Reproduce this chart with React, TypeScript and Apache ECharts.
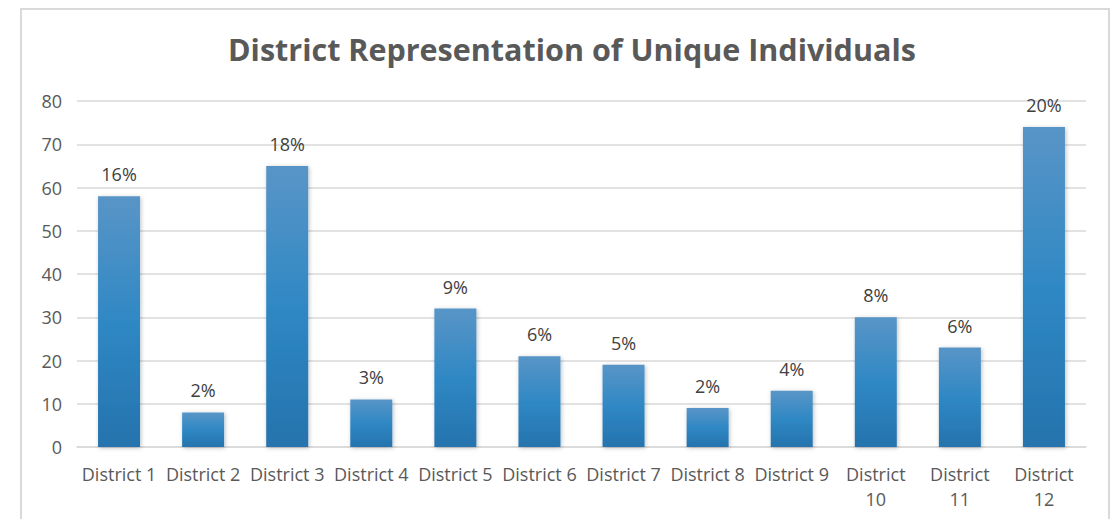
import React, { useEffect, useRef } from "react";
import * as echarts from "echarts";

const categories = [
  "District 1", "District 2", "District 3", "District 4", "District 5", "District 6",
  "District 7", "District 8", "District 9", "District 10", "District 11", "District 12",
];
const counts = [58, 8, 65, 11, 32, 21, 19, 9, 13, 30, 23, 74];
const percentLabels = ["16%", "2%", "18%", "3%", "9%", "6%", "5%", "2%", "4%", "8%", "6%", "20%"];
const yTicks = [0, 10, 20, 30, 40, 50, 60, 70, 80];

const FONT = "'Open Sans', Lato, sans-serif";

export default function App() {
  const ref = useRef<HTMLDivElement>(null);
  useEffect(() => {
    document.body.style.margin = "0";
    if (!ref.current) return;
    const chart = echarts.init(ref.current, undefined, { renderer: "svg" });
    chart.setOption({
      animation: false,
      backgroundColor: "#ffffff",
      title: {
        text: "District Representation of Unique Individuals",
        left: 223,
        top: 28,
        textStyle: { fontFamily: FONT, fontSize: 30.5, fontWeight: "bold", color: "#595959" },
      },
      graphic: [
        {
          type: "rect",
          shape: { x: 21, y: 9, width: 1088, height: 520 },
          style: { fill: "none", stroke: "#d9d9d9", lineWidth: 2 },
          silent: true,
        },
      ],
      grid: { left: 77, right: 25, top: 101, bottom: 72, containLabel: false },
      xAxis: {
        type: "category",
        data: categories,
        axisLine: { lineStyle: { color: "#d9d9d9", width: 1.5 } },
        axisTick: { show: false },
        axisLabel: {
          interval: 0,
          margin: 14,
          fontFamily: FONT,
          fontSize: 18,
          color: "#595959",
          lineHeight: 25,
          formatter: (v: string) => (v.length > 10 ? v.replace(" ", "\n") : v),
        },
      },
      yAxis: {
        type: "value",
        min: yTicks[0],
        max: yTicks[yTicks.length - 1],
        interval: 10,
        axisLine: { show: false },
        axisTick: { show: false },
        splitLine: { lineStyle: { color: "#d9d9d9", width: 1.5 } },
        axisLabel: { fontFamily: FONT, fontSize: 18, color: "#595959", margin: 15 },
      },
      series: [
        {
          type: "bar",
          data: counts,
          barWidth: 42,
          itemStyle: {
            color: new echarts.graphic.LinearGradient(0, 0, 0, 1, [
              { offset: 0, color: "#5995c7" },
              { offset: 0.5, color: "#2f88c4" },
              { offset: 1, color: "#2573ad" },
            ]),
            shadowColor: "rgba(0,0,0,0.25)",
            shadowBlur: 4,
            shadowOffsetX: 1,
            shadowOffsetY: 1,
          },
          label: {
            show: true,
            position: "top",
            distance: 13,
            fontFamily: FONT,
            fontSize: 18,
            color: "#404040",
            formatter: (p: any) => percentLabels[p.dataIndex],
          },
        },
      ],
    });
    return () => chart.dispose();
  }, []);
  return <div ref={ref} style={{ width: 1111, height: 519 }} />;
}
